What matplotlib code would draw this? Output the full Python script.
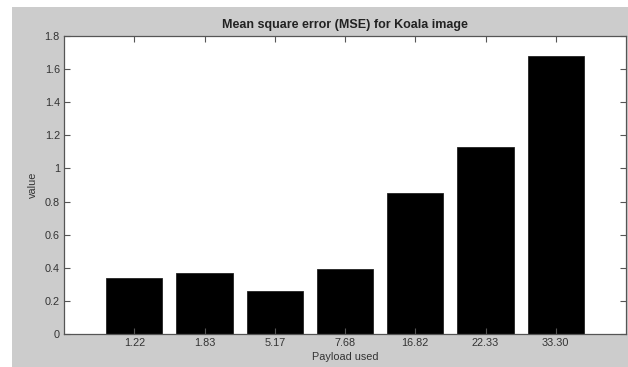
import numpy as np
import matplotlib.pyplot as plt
from matplotlib.patches import Rectangle

# data
payloads = ['1.22', '1.83', '5.17', '7.68', '16.82', '22.33', '33.30']
mse = [0.34, 0.37, 0.26, 0.39, 0.85, 1.13, 1.68]

plt.rcParams['font.family'] = ['Liberation Sans', 'DejaVu Sans']

fig = plt.figure(figsize=(6.28, 3.67), dpi=100)
fig.patch.set_facecolor('white')

# grey matlab-like figure background (offset from the top-left edge)
fig.patches.append(Rectangle((12 / 628, 0), 1 - 12 / 628, 1 - 7 / 367,
                             transform=fig.transFigure, facecolor='#cccccc',
                             edgecolor='none', zorder=-1))

ax = fig.add_axes([64 / 628, 33 / 367, 562 / 628, 298 / 367])
ax.set_facecolor('white')

index = np.arange(1, len(mse) + 1)
ax.bar(index, mse, 0.8, color='black', edgecolor='#222222', linewidth=0.6)

ax.set_xlim(0, len(mse) + 1)
ax.set_ylim(0, 1.8)
ax.set_xticks(index)
ax.set_xticklabels(payloads)
yt = np.arange(0, 1.81, 0.2)
ax.set_yticks(yt)
ax.set_yticklabels(['%g' % round(v, 1) for v in yt])

ax.tick_params(direction='in', top=True, right=True, length=4, width=0.8,
               colors='#555555', labelsize=7.8, labelcolor='#333333', pad=3)
for s in ax.spines.values():
    s.set_color('#555555')
    s.set_linewidth(0.9)

ax.set_title('Mean square error (MSE) for Koala image', fontsize=9,
             fontweight='bold', color='#222222', pad=6)
ax.set_xlabel('Payload used', fontsize=7.8, color='#333333', labelpad=3)
ax.set_ylabel('value', fontsize=7.8, color='#333333', labelpad=5)

plt.savefig('out.png', dpi=100)
